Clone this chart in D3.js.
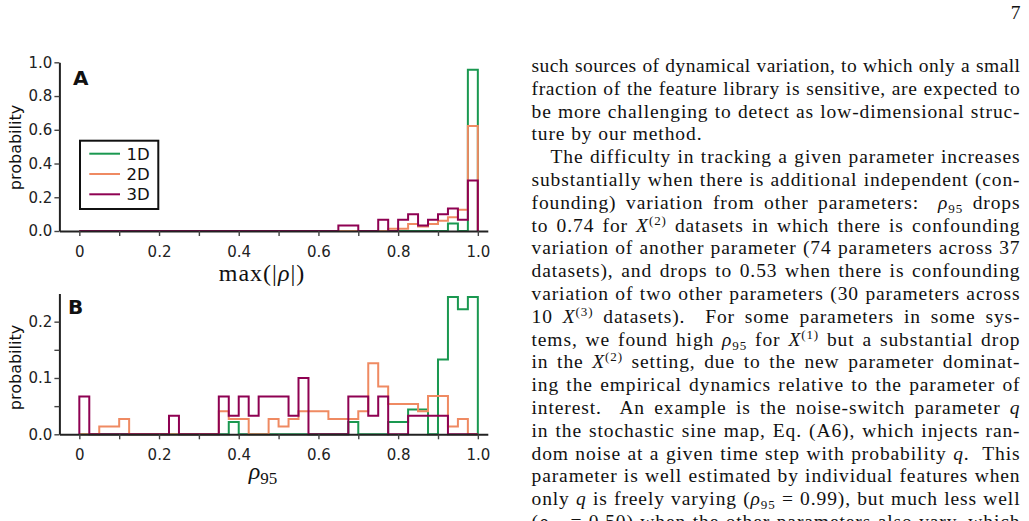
<!DOCTYPE html>
<html>
<head>
<meta charset="utf-8">
<script src="https://cdn.jsdelivr.net/npm/d3@7"></script>
<style>
body { margin: 0; background: #fff; }
svg { display: block; }
.axis text { font-family: "DejaVu Sans", sans-serif; font-size: 15px; fill: #222; }
.body-text { font-family: "Liberation Serif", serif; font-size: 19.5px; fill: #111; white-space: pre; }
</style>
</head>
<body>
<div id="page"></div>
<script>
let W = 1029;
let H = 521;

// histogram bins (width 0.025)
let binEdges = [0, 0.025, 0.05, 0.075, 0.1, 0.125, 0.15, 0.175, 0.2, 0.225,
    0.25, 0.275, 0.3, 0.325, 0.35, 0.375, 0.4, 0.425, 0.45, 0.475,
    0.5, 0.525, 0.55, 0.575, 0.6, 0.625, 0.65, 0.675, 0.7, 0.725,
    0.75, 0.775, 0.8, 0.825, 0.85, 0.875, 0.9, 0.925, 0.95, 0.975, 1.0];

let seriesNames = ["1D", "2D", "3D"];
let seriesColors = ["#1a9850", "#ef8a62", "#8e0152"];

// panel A: max(|rho|)
let a1D = [0, 0, 0, 0, 0, 0, 0, 0, 0, 0,
    0, 0, 0, 0, 0, 0, 0, 0, 0, 0,
    0, 0, 0, 0, 0, 0, 0, 0, 0, 0,
    0, 0, 0, 0, 0, 0, 0, 0.044, 0, 0.956];
let a2D = [0, 0, 0, 0, 0, 0, 0, 0, 0, 0,
    0, 0, 0, 0, 0, 0, 0, 0, 0, 0,
    0, 0, 0, 0, 0, 0, 0, 0, 0, 0,
    0, 0.014, 0.014, 0.041, 0.027, 0.041, 0.061, 0.081, 0.126, 0.622];
let a3D = [0, 0, 0, 0, 0, 0, 0, 0, 0, 0,
    0, 0, 0, 0, 0, 0, 0, 0, 0, 0,
    0, 0, 0, 0, 0, 0, 0.033, 0.033, 0, 0,
    0.067, 0, 0.067, 0.1, 0.033, 0.067, 0.1, 0.133, 0.067, 0.3];

// panel B: rho_95
let b1D = [0, 0, 0, 0, 0, 0, 0, 0, 0, 0,
    0, 0, 0, 0, 0, 0.022, 0, 0, 0, 0,
    0, 0, 0, 0, 0, 0, 0, 0.022, 0, 0,
    0, 0.022, 0.022, 0.044, 0.044, 0, 0.133, 0.244, 0.222, 0.244];
let b2D = [0, 0, 0.014, 0.014, 0.027, 0, 0, 0, 0, 0,
    0, 0, 0, 0, 0.041, 0.027, 0.027, 0, 0, 0.027,
    0.014, 0.027, 0.041, 0.041, 0.041, 0.027, 0.027, 0.027, 0.041, 0.126,
    0.085, 0.054, 0.054, 0.054, 0.041, 0.068, 0.068, 0.014, 0.027, 0];
let b3D = [0.067, 0, 0, 0, 0, 0, 0, 0, 0, 0.033,
    0, 0, 0, 0, 0.067, 0.033, 0.067, 0.033, 0.067, 0.067,
    0.067, 0.033, 0.1, 0, 0, 0, 0, 0.067, 0.067, 0.033,
    0.067, 0, 0, 0.033, 0.033, 0.033, 0.033, 0, 0, 0];

let xTickValues = [0, 0.1, 0.2, 0.3, 0.4, 0.5, 0.6, 0.7, 0.8, 0.9, 1.0];
let xTickLabels = ["0", "", "0.2", "", "0.4", "", "0.6", "", "0.8", "", "1.0"];
let aYTicks = [0, 0.2, 0.4, 0.6, 0.8, 1.0];
let aYLabels = ["0.0", "0.2", "0.4", "0.6", "0.8", "1.0"];
let bYTicks = [0, 0.05, 0.1, 0.15, 0.2];
let bYLabels = ["0.0", "", "0.1", "", "0.2"];

// right column text, one entry per typeset line
let textLines = [
    [["such sources of dynamical variation, to which only a small"]],
    [["fraction of the feature library is sensitive, are expected to"]],
    [["be more challenging to detect as low-dimensional struc-"]],
    [["ture by our method."]],
    [["The difficulty in tracking a given parameter increases"]],
    [["substantially when there is additional independent (con-"]],
    [["founding) variation from other parameters:  "], ["ρ", "i"], ["95", "sub"], [" drops"]],
    [["to 0.74 for "], ["X", "cal"], ["(2)", "sup"], [" datasets in which there is confounding"]],
    [["variation of another parameter (74 parameters across 37"]],
    [["datasets), and drops to 0.53 when there is confounding"]],
    [["variation of two other parameters (30 parameters across"]],
    [["10 "], ["X", "cal"], ["(3)", "sup"], [" datasets).  For some parameters in some sys-"]],
    [["tems, we found high "], ["ρ", "i"], ["95", "sub"], [" for "], ["X", "cal"], ["(1)", "sup"], [" but a substantial drop"]],
    [["in the "], ["X", "cal"], ["(2)", "sup"], [" setting, due to the new parameter dominat-"]],
    [["ing the empirical dynamics relative to the parameter of"]],
    [["interest.  An example is the noise-switch parameter "], ["q", "i"]],
    [["in the stochastic sine map, Eq. (A6), which injects ran-"]],
    [["dom noise at a given time step with probability "], ["q", "i"], [".  This"]],
    [["parameter is well estimated by individual features when"]],
    [["only "], ["q", "i"], [" is freely varying ("], ["ρ", "i"], ["95", "sub"], [" = 0.99), but much less well"]],
    [["("], ["ρ", "i"], ["95", "sub"], [" = 0.50) when the other parameters also vary, which"]]
];
let parEnds = [3];
let parStarts = [4];

let svg = d3.select("#page")
    .append("svg")
    .attr("width", W)
    .attr("height", H);

svg.append("rect").attr("width", W).attr("height", H).attr("fill", "#fff");

let x = d3.scaleLinear()
    .domain([-0.05, 1.025])
    .range([59.4, 487.8]);

let stepPoints = function (vals) {
    let last = binEdges.length - 1;
    let pts = [[binEdges[0], 0]];
    vals.forEach((v, i) => pts.push([binEdges[i], v]));
    pts.push([binEdges[last], vals[vals.length - 1]]);
    pts.push([binEdges[last], 0]);
    return pts;
};

let drawPanel = function (cfg) {
    let g = svg.append("g");
    let y = d3.scaleLinear()
        .domain(cfg.yDomain)
        .range(cfg.yRange);

    let line = d3.line()
        .x(d => x(d[0]))
        .y(d => y(d[1]))
        .curve(d3.curveStepAfter);

    cfg.series.forEach((vals, i) => {
        g.append("path")
            .datum(stepPoints(vals))
            .attr("d", line)
            .attr("fill", "none")
            .attr("stroke", seriesColors[i])
            .attr("stroke-width", 2);
    });

    let xAxis = d3.axisBottom(x)
        .tickValues(xTickValues)
        .tickFormat((d, i) => xTickLabels[i])
        .tickSize(5)
        .tickSizeOuter(0)
        .tickPadding(10);

    let yAxis = d3.axisLeft(y)
        .tickValues(cfg.yTicks)
        .tickFormat((d, i) => cfg.yLabels[i])
        .tickSize(5)
        .tickSizeOuter(0)
        .tickPadding(2);

    let gx = g.append("g")
        .attr("class", "axis")
        .attr("transform", "translate(0," + cfg.yRange[0] + ")")
        .call(xAxis);

    let gy = g.append("g")
        .attr("class", "axis")
        .attr("transform", "translate(" + x.range()[0] + ",0)")
        .call(yAxis);

    [gx, gy].forEach(a => {
        a.select(".domain").attr("stroke", "#222").attr("stroke-width", 2);
        a.selectAll(".tick line").attr("stroke", "#444").attr("stroke-width", 1.4);
    });

    g.append("text")
        .attr("x", cfg.letterX)
        .attr("y", cfg.letterY)
        .attr("font-family", "DejaVu Sans, sans-serif")
        .attr("font-weight", "bold")
        .attr("font-size", 20)
        .attr("fill", "#111")
        .text(cfg.letter);

    g.append("text")
        .attr("transform", "translate(20.5," + cfg.ylabelY + ") rotate(-90)")
        .attr("text-anchor", "middle")
        .attr("font-family", "DejaVu Sans, sans-serif")
        .attr("font-size", 16)
        .attr("fill", "#111")
        .text("probability");

    return g;
};

let gA = drawPanel({
    series: [a1D, a2D, a3D],
    yDomain: [0, 1],
    yRange: [231, 62.3],
    yTicks: aYTicks,
    yLabels: aYLabels,
    letter: "A",
    letterX: 73,
    letterY: 85,
    ylabelY: 147.5
});

let gB = drawPanel({
    series: [b1D, b2D, b3D],
    yDomain: [0, 0.25],
    yRange: [434.3, 293.5],
    yTicks: bYTicks,
    yLabels: bYLabels,
    letter: "B",
    letterX: 68,
    letterY: 314,
    ylabelY: 367.5
});

// x labels (math style)
let labA = gA.append("text")
    .attr("x", 262)
    .attr("y", 281)
    .attr("text-anchor", "middle")
    .attr("font-family", "Liberation Serif, serif")
    .attr("font-size", 24)
    .attr("letter-spacing", 1)
    .attr("fill", "#111");
labA.append("tspan").text("max(|");
labA.append("tspan").attr("font-style", "italic").text("ρ");
labA.append("tspan").text("|)");

let labB = gB.append("text")
    .attr("x", 263)
    .attr("y", 479)
    .attr("text-anchor", "middle")
    .attr("font-family", "Liberation Serif, serif")
    .attr("font-size", 24)
    .attr("fill", "#111");
labB.append("tspan").attr("font-style", "italic").text("ρ");
labB.append("tspan").attr("font-size", 17).attr("dy", 5).text("95");

// legend
let legend = gA.append("g");
legend.append("rect")
    .attr("x", 80)
    .attr("y", 140.7)
    .attr("width", 78.3)
    .attr("height", 68.3)
    .attr("fill", "#fff")
    .attr("stroke", "#111")
    .attr("stroke-width", 2);

seriesNames.forEach((name, i) => {
    let ly = 153.7 + i * 20.3;
    legend.append("line")
        .attr("x1", 89.3).attr("x2", 120)
        .attr("y1", ly).attr("y2", ly)
        .attr("stroke", seriesColors[i])
        .attr("stroke-width", 2);
    legend.append("text")
        .attr("x", 126.5)
        .attr("y", ly + 6)
        .attr("font-family", "DejaVu Sans, sans-serif")
        .attr("font-size", 16.5)
        .attr("fill", "#111")
        .text(name);
});

// page number
svg.append("text")
    .attr("x", 1020.5)
    .attr("y", 18.5)
    .attr("text-anchor", "end")
    .attr("class", "body-text")
    .text("7");

// right column, justified line by line (letter spacing + word spacing)
let colLeft = 531.5;
let colRight = 1020.5;
let parIndent = 19;
let firstBase = 72;
let lineStep = 22.8;
let baseLetter = 0.9;
let minWord = 0.5;

textLines.forEach((segs, k) => {
    let x0 = colLeft + (parStarts.includes(k) ? parIndent : 0);
    let t = svg.append("text")
        .attr("class", "body-text")
        .attr("x", x0)
        .attr("y", firstBase + k * lineStep)
        .style("letter-spacing", "0px")
        .style("word-spacing", "0px");
    let shift = 0;
    segs.forEach(s => {
        let ts = t.append("tspan").text(s[0]);
        let target = s[1] === "sub" ? 4 : (s[1] === "sup" ? -7 : 0);
        if (target !== shift) {
            ts.attr("dy", target - shift);
            shift = target;
        }
        if (s[1] === "i" || s[1] === "cal") ts.attr("font-style", "italic");
        if (s[1] === "sub" || s[1] === "sup") ts.attr("font-size", 13);
    });
    let str = segs.map(s => s[0]).join("");
    let chars = str.length;
    let spaces = str.split(" ").length - 1;
    let natural = t.node().getComputedTextLength();
    let ls = baseLetter;
    let ws = 0;
    if (!parEnds.includes(k) && spaces > 0) {
        let avail = colRight - x0 - natural;
        ws = (avail - chars * ls) / spaces;
        if (ws < minWord) {
            ws = minWord;
            ls = (avail - spaces * ws) / chars;
        }
    }
    t.style("letter-spacing", ls + "px").style("word-spacing", ws + "px");
});
</script>
</body>
</html>
